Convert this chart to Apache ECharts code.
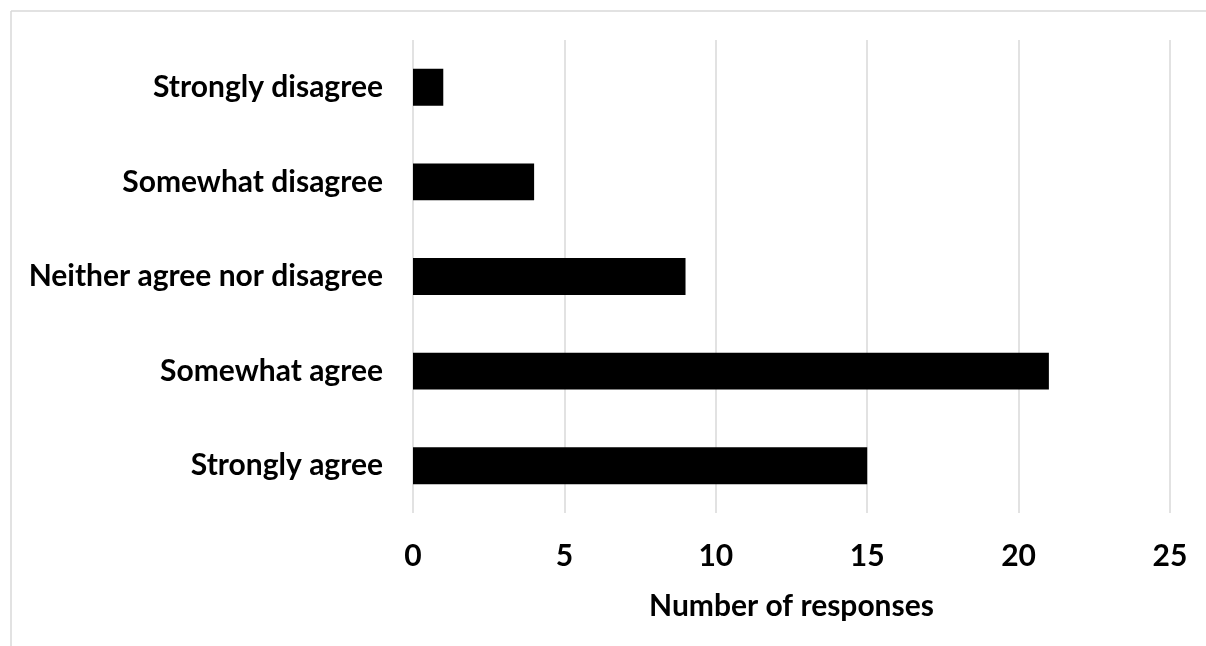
<!DOCTYPE html>
<html>
<head>
<meta charset="utf-8">
<style>
  html, body { margin: 0; padding: 0; background: #fff; }
  #chart { width: 1206px; height: 646px; }
</style>
<script src="https://cdn.jsdelivr.net/npm/echarts@6/dist/echarts.min.js"></script>
</head>
<body>
<div id="chart"></div>
<script>
// Survey responses, listed bottom-to-top on the category axis
const categories = [
  'Strongly agree',
  'Somewhat agree',
  'Neither agree nor disagree',
  'Somewhat disagree',
  'Strongly disagree'
];
const responses = [15, 21, 9, 4, 1];
const axisTitle = 'Number of responses';

const FONT = 'Lato, "Open Sans", sans-serif';
const chart = echarts.init(document.getElementById('chart'), null, { renderer: 'canvas' });

chart.setOption({
  backgroundColor: '#ffffff',
  animation: false,
  // chart-area frame: top and left edges
  graphic: [
    {
      type: 'line',
      shape: { x1: 11, y1: 11, x2: 1206, y2: 11 },
      style: { stroke: '#d9d9d9', lineWidth: 1.5 },
      silent: true
    },
    {
      type: 'line',
      shape: { x1: 11, y1: 11, x2: 11, y2: 646 },
      style: { stroke: '#d9d9d9', lineWidth: 1.5 },
      silent: true
    }
  ],
  grid: { left: 413, right: 36, top: 40, bottom: 133, containLabel: false },
  xAxis: {
    type: 'value',
    min: 0,
    max: 25,
    interval: 5,
    name: axisTitle,
    nameLocation: 'middle',
    nameGap: 78,
    nameTextStyle: { fontFamily: FONT, fontWeight: 'bold', fontSize: 30, color: '#000' },
    axisLine: { show: false },
    axisTick: { show: false },
    axisLabel: { margin: 28, fontFamily: FONT, fontWeight: 'bold', fontSize: 30, color: '#000' },
    splitLine: { show: true, lineStyle: { color: '#d9d9d9', width: 1.5 } }
  },
  yAxis: {
    type: 'category',
    data: categories,
    axisLine: { show: false },
    axisTick: { show: false },
    axisLabel: { margin: 30, fontFamily: FONT, fontWeight: 'bold', fontSize: 30, color: '#000' }
  },
  series: [{
    type: 'bar',
    data: responses,
    barWidth: '39%',
    itemStyle: { color: '#000000' }
  }]
});
</script>
</body>
</html>
